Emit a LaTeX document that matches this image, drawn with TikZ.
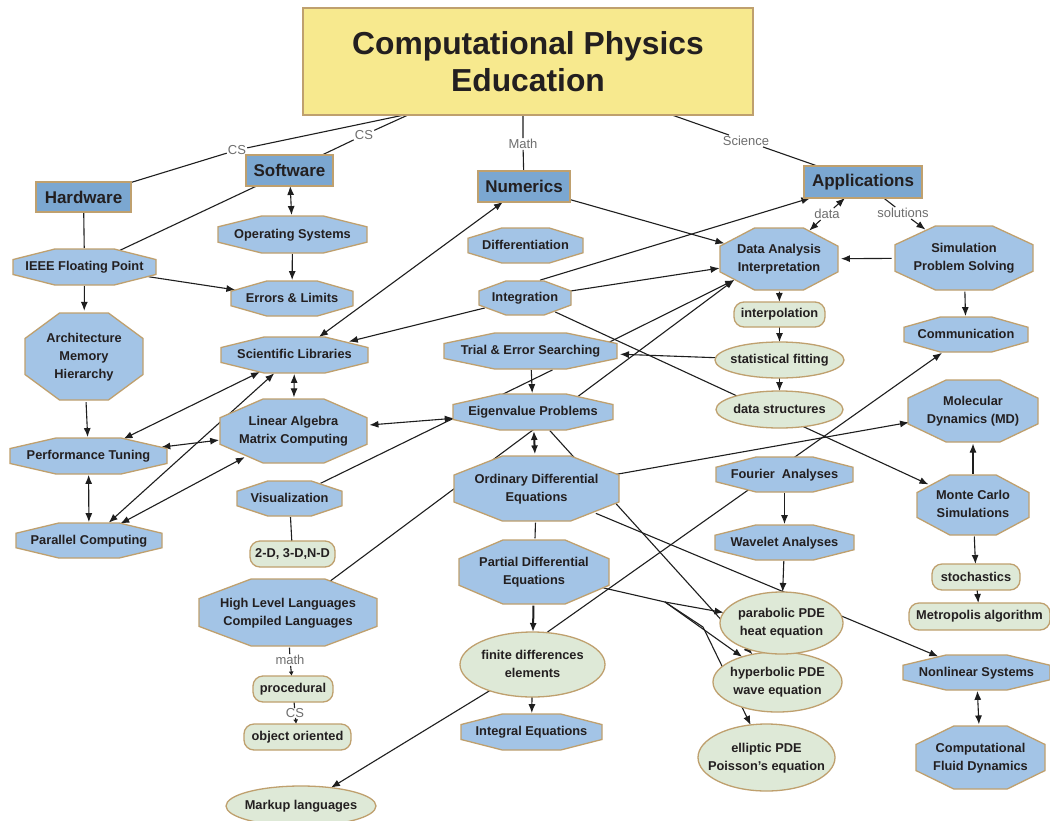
\documentclass[tikz,border=0pt]{standalone}
\usepackage{fontspec}
\setmainfont{Liberation Sans}
\usetikzlibrary{arrows.meta,calc,shapes.geometric}
\pgfdeclarelayer{bg}
\pgfdeclarelayer{edges}
\pgfdeclarelayer{shapes}
\pgfsetlayers{bg,edges,shapes,main}
\definecolor{ttlfill}{HTML}{F7E98E}
\definecolor{tanc}{HTML}{BFA06E}
\definecolor{catfill}{HTML}{7BA7D1}
\definecolor{octfill}{HTML}{A3C4E6}
\definecolor{grnfill}{HTML}{DEE9D7}
\definecolor{txt}{HTML}{231F20}
\definecolor{edgec}{HTML}{1E1E1E}
\definecolor{lblc}{HTML}{6E6E6E}
\newcommand\ztext[1]{\makebox[0pt]{\begin{tabular}{@{}c@{}}#1\end{tabular}}}
\newcommand\octnode[6]{%
  \node[octn, minimum width=1.05*#4, minimum height=1.05*#5] (#1) at (#2,#3) {\ztext{#6}};
  \begin{pgfonlayer}{shapes}
  \path[octs] ([shift={(-0.2071*#4,-0.5*#5)}]#1.center) -- ([shift={(0.2071*#4,-0.5*#5)}]#1.center)
   -- ([shift={(0.5*#4,-0.2071*#5)}]#1.center) -- ([shift={(0.5*#4,0.2071*#5)}]#1.center)
   -- ([shift={(0.2071*#4,0.5*#5)}]#1.center) -- ([shift={(-0.2071*#4,0.5*#5)}]#1.center)
   -- ([shift={(-0.5*#4,0.2071*#5)}]#1.center) -- ([shift={(-0.5*#4,-0.2071*#5)}]#1.center) -- cycle;
  \end{pgfonlayer}}
\tikzset{
  nbase/.style={inner sep=0pt, outer sep=0pt, text=txt, font=\bfseries\fontsize{12.8}{18}\selectfont},
  ttl/.style={rectangle, draw=tanc, line width=1.5pt, fill=ttlfill, inner sep=0pt, outer sep=0pt,
    minimum width=450, minimum height=107, align=center, text=txt, font=\bfseries\fontsize{31.8}{37}\selectfont},
  ncat/.style={nbase, rectangle, draw=tanc, line width=1.3pt, fill=catfill, font=\bfseries\fontsize{17}{20}\selectfont},
  octn/.style={nbase, ellipse},
  octs/.style={fill=octfill, draw=tanc, line width=1.3pt},
  grn/.style={nbase, ellipse, draw=tanc, fill=grnfill, line width=1.3pt},
  grr/.style={nbase, rectangle, rounded corners=10pt, draw=tanc, fill=grnfill, line width=1.3pt},
  lnk/.style={inner sep=1pt, text=lblc, font=\fontsize{13}{15}\selectfont},
  con/.style={draw=edgec, line width=1.1pt},
  arr/.style={con, -{Latex[length=9pt,width=7pt]}},
  sarr/.style={con, -{Latex[length=4.5pt,width=5pt]}},
  darr/.style={con, {Latex[length=9pt,width=7pt]}-{Latex[length=9pt,width=7pt]}},
}
\begin{document}
\begin{tikzpicture}[x=1pt,y=-1pt]
\useasboundingbox (0,0) rectangle (1050,820);
\begin{pgfonlayer}{bg}
\fill[white] (0,0) rectangle (1050,820);
\end{pgfonlayer}

% title and categories
\node[ttl] (title) at (528,61.5) {Computational Physics\\Education};
\node[ncat, minimum width=95, minimum height=30] (hw) at (83.5,197) {Hardware};
\node[ncat, minimum width=87, minimum height=31] (sw) at (289.5,170.5) {Software};
\node[ncat, minimum width=92, minimum height=31] (num) at (524,186.5) {Numerics};
\node[ncat, minimum width=118, minimum height=32] (app) at (863,182) {Applications};

% octagon concepts
\octnode{os}{292.5}{234.5}{149}{37}{Operating Systems}
\octnode{ieee}{84.5}{267}{143}{36}{IEEE Floating Point}
\octnode{err}{292}{298.5}{122}{35}{Errors \& Limits}
\octnode{arch}{84}{356.5}{118}{87}{Architecture\\Memory\\Hierarchy}
\octnode{sci}{294.5}{355}{147}{36}{Scientific Libraries}
\octnode{diff}{525.5}{245.5}{115}{35}{Differentiation}
\octnode{integ}{525}{298}{92}{34}{Integration}
\octnode{trial}{530.5}{351}{173}{36}{Trial \& Error Searching}
\octnode{eig}{533}{412}{160}{36}{Eigenvalue Problems}
\octnode{la}{293.5}{431}{147}{64}{Linear Algebra\\Matrix Computing}
\octnode{perf}{88.5}{456}{157}{36}{Performance Tuning}
\octnode{par}{89}{540.5}{146}{35}{Parallel Computing}
\octnode{vis}{289.5}{498.5}{105}{35}{Visualization}
\octnode{ode}{536.5}{488.5}{165}{65}{Ordinary Differential\\Equations}
\octnode{pde}{534}{572}{150}{64}{Partial Differential\\Equations}
\octnode{hll}{288}{612.5}{178}{67}{High Level Languages\\Compiled Languages}
\octnode{dai}{779}{259}{118}{62}{Data Analysis\\Interpretation}
\octnode{sim}{964}{258}{138}{64}{Simulation\\Problem Solving}
\octnode{comm}{966}{334.5}{124}{35}{Communication}
\octnode{md}{973}{411}{130}{62}{Molecular\\Dynamics (MD)}
\octnode{four}{784.5}{474.5}{137}{35}{Fourier\ \ Analyses}
\octnode{wav}{784.5}{542.5}{139}{35}{Wavelet Analyses}
\octnode{mc}{973}{505}{112}{60}{Monte Carlo\\Simulations}
\octnode{nls}{976.5}{672.5}{147}{35}{Nonlinear Systems}
\octnode{cfd}{980.5}{757.5}{129}{63}{Computational\\Fluid Dynamics}
\octnode{inteq}{531.5}{732}{141}{36}{Integral Equations}

% green concepts
\node[grr, minimum width=91, minimum height=25] (interp) at (779.5,314.5) {interpolation};
\node[grn, minimum width=129, minimum height=36] (stat) at (779.5,360) {\ztext{statistical fitting}};
\node[grn, minimum width=127, minimum height=37] (dstr) at (779.5,409.5) {\ztext{data structures}};
\node[grr, minimum width=88, minimum height=26] (stoch) at (976,577) {stochastics};
\node[grr, minimum width=141, minimum height=27] (metro) at (979.5,616.5) {Metropolis algorithm};
\node[grr, minimum width=85, minimum height=26] (dims) at (292.5,554) {2-D, 3-D,N-D};
\node[grr, minimum width=80, minimum height=26] (proc) at (293,689) {procedural};
\node[grr, minimum width=107, minimum height=26] (oo) at (297.5,737) {object oriented};
\node[grn, minimum width=150, minimum height=40] (markup) at (301,806) {\ztext{Markup languages}};
\node[grn, minimum width=145, minimum height=65] (fd) at (532.5,664.5) {\ztext{finite differences\\elements}};
\node[grn, minimum width=129, minimum height=60] (hyp) at (777.5,682) {\ztext{hyperbolic PDE\\wave equation}};
\node[grn, minimum width=123, minimum height=62] (para) at (781.5,623) {\ztext{parabolic PDE\\heat equation}};
\node[grn, minimum width=137, minimum height=67] (ell) at (766.5,757.5) {\ztext{elliptic PDE\\Poisson's equation}};

% linking phrases
\node[lnk] (lcs1) at (237,150) {CS};
\node[lnk] (lcs2) at (364,135) {CS};
\node[lnk] (lmath) at (523,144) {Math};
\node[lnk] (lsci) at (746,141) {Science};
\node[lnk] (ldata) at (827,214) {data};
\node[lnk] (lsol) at (903,213) {solutions};
\node[lnk] (lmath2) at (290,660) {math};
\node[lnk, inner sep=0pt] (lcs3) at (295,713) {CS};
\coordinate (lpde) at (665,602);
\coordinate (lbend) at (703,627);

\begin{pgfonlayer}{edges}
\draw[con] ([xshift=-124pt]title.south) -- (lcs1) -- (hw);
\draw[con] ([xshift=-120pt]title.south) -- (lcs2) -- (sw);
\draw[con] (title.south -| lmath) -- (lmath) -- (num);
\draw[con] ([xshift=144pt]title.south) -- (lsci) -- (app);
\draw[con] (hw) -- (ieee);
\draw[con] (sw) -- (ieee);
\draw[darr] (sw) -- (os);
\draw[arr] (os) -- (err);
\draw[arr] (ieee) -- (err);
\draw[arr] (ieee) -- (arch);
\draw[arr] (arch) -- (perf);
\draw[darr] (perf) -- (par);
\draw[darr] (sci) -- (la);
\draw[darr] (perf) -- (la);
\draw[darr] (sci) -- (perf);
\draw[darr] (sci) -- (par);
\draw[darr] (la) -- (par);
\draw[darr] (la) -- (eig);
\draw[darr] (num) -- (sci);
\draw[arr] (integ) -- (sci);
\draw[arr] ([xshift=15pt]integ.north) -- (app);
\draw[arr] (integ) -- (dai);
\draw[arr] (integ) -- (mc);
\draw[arr] (num) -- (dai);
\draw[arr] (ldata) -- (app);
\draw[arr] (ldata) -- (dai);
\draw[con] (app) -- (lsol);
\draw[arr] (lsol) -- (sim);
\draw[arr] (sim) -- (dai);
\draw[arr] (sim) -- (comm);
\draw[arr] (dai) -- (interp);
\draw[arr] (interp) -- (stat);
\draw[arr] (stat) -- (dstr);
\draw[arr] (stat) -- (trial);
\draw[arr] ([shift={(79,-9)}]trial.center) -- ([shift={(-1,-2)}]dai.south west);
\draw[arr] (hll) -- ([shift={(-1,-2)}]dai.south west);
\draw[con] (vis) -- ([xshift=22pt]trial.south);
\draw[arr] (eig) -- (hyp);
\draw[darr, line width=2pt] (eig) -- (ode);
\draw[arr] (trial) -- (eig);
\draw[con] (ode) -- (pde);
\draw[arr] (ode) -- (md);
\draw[arr] (ode) -- (nls);
\draw[arr, line width=2pt] (pde) -- (fd);
\draw[con] (pde) -- (lpde);
\draw[arr] (lpde) -- (para);
\draw[arr] (lpde) -- (hyp);
\draw[arr] (lpde) -- (lbend) -- (ell);
\draw[arr] (four) -- (wav);
\draw[arr] (wav) -- (para);
\draw[arr] ([xshift=15pt]fd.north) -- ([xshift=-24pt]comm.south);
\draw[arr] (fd) -- (markup);
\draw[arr] (fd) -- (inteq);
\draw[arr] (mc) -- (md);
\draw[arr] (mc) -- (stoch);
\draw[arr] (stoch) -- (metro);
\draw[darr] (nls) -- (cfd);
\draw[con] (hll) -- (lmath2);
\draw[sarr] (lmath2) -- (proc);
\draw[con] (proc) -- (lcs3);
\draw[sarr] (lcs3) -- (oo);
\draw[con] (vis) -- (dims);
\end{pgfonlayer}
\end{tikzpicture}
\end{document}
